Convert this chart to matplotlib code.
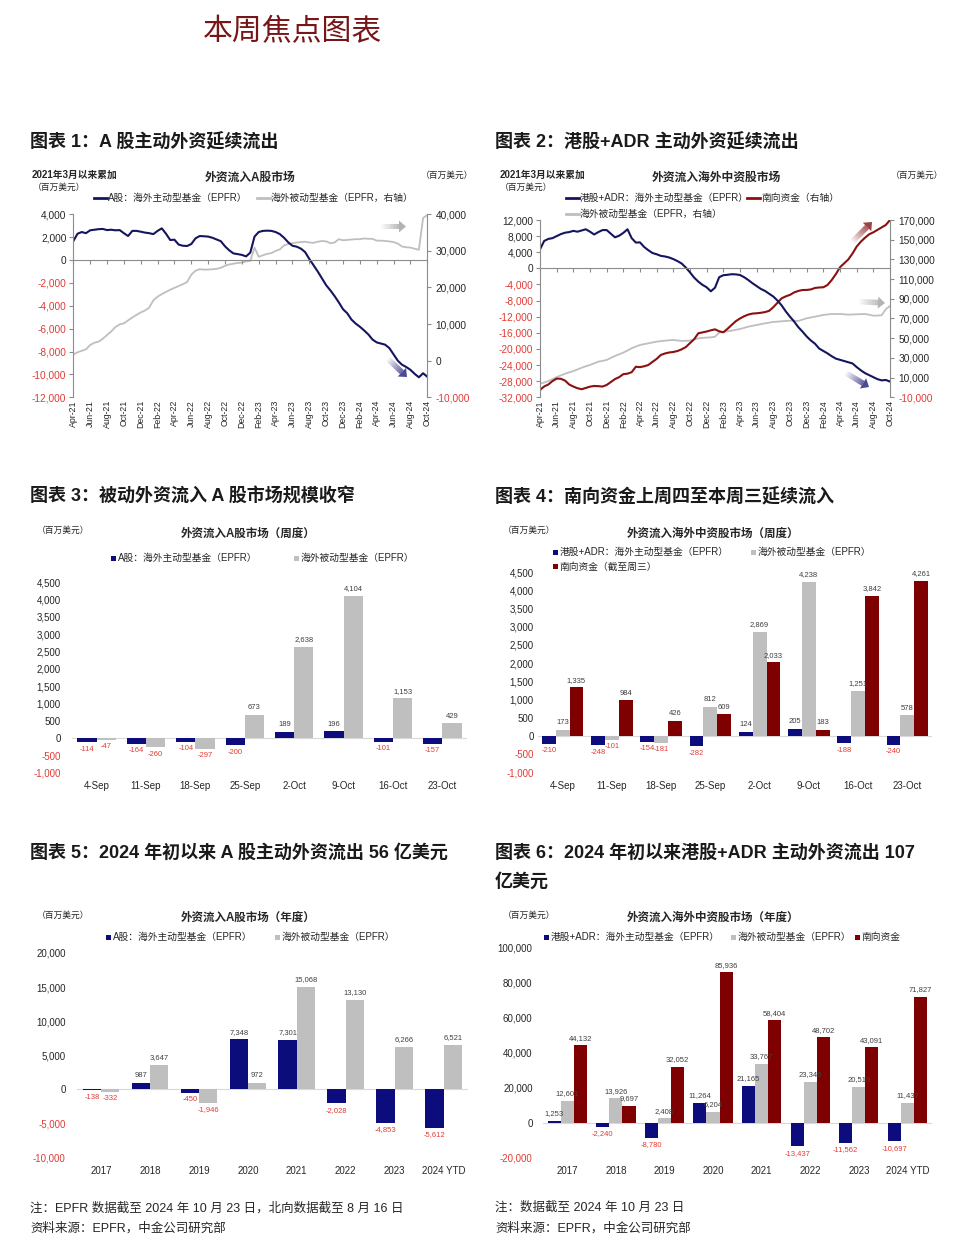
import numpy as np
import pandas as pd
import matplotlib
matplotlib.use('Agg')
import matplotlib.pyplot as plt
from matplotlib.patches import Rectangle, Polygon
from matplotlib.lines import Line2D

plt.rcParams['font.family'] = ['Liberation Sans', 'Noto Sans CJK SC']
plt.rcParams['axes.unicode_minus'] = False

W, H = 979, 1245
NAVY = '#0c0c7c'
LNAVY = '#15155f'
GRAY = '#bfbfbf'
DRED = '#7f0000'
NEG = '#e23b36'
TXT = '#262626'

# ---- cumulative flows since Mar-2021 (half-month steps, Apr-21 .. Oct-24) ----
a_active_cum = [1650, 2300, 2450, 2350, 2600, 2650, 2700, 2720, 2620, 2650,
                2600, 2620, 2350, 2100, 2550, 2550, 2480, 2400, 2350, 2270,
                2550, 2770, 2300, 1750, 1780, 1350, 1250, 1230, 1400, 1900,
                2100, 2080, 2050, 1950, 1800, 1650, 1200, 850, 580, 520,
                450, 320, 650, 2050, 2450, 2550, 2570, 2550, 2450, 2270,
                1950, 1550, 1250, 1170, 1000, 700, 100, -450, -1000, -1600,
                -2200, -2650, -3150, -3700, -4300, -4650, -5200, -5550, -5830, -6150,
                -6500, -6950, -7200, -7300, -7400, -7700, -8250, -8800, -9150, -9350,
                -9600, -9950, -10250, -9900, -10200]
a_passive_cum = [1700, 2300, 2700, 3100, 4300, 4900, 5200, 6000, 7000, 8000,
                 9200, 9900, 10200, 11000, 11800, 12500, 13200, 13700, 14500, 16500,
                 17500, 18200, 18800, 19400, 19900, 20400, 20900, 21500, 23500, 24600,
                 25000, 24900, 24900, 25000, 25100, 25400, 25900, 26300, 26500, 26700,
                 26800, 27100, 27300, 30900, 28400, 28800, 29200, 29400, 30000, 30400,
                 31500, 31900, 32100, 32300, 32400, 32500, 32300, 32200, 32500, 32700,
                 32600, 32100, 32300, 33200, 32900, 33000, 33100, 33200, 33200, 33400,
                 33300, 33300, 32800, 32800, 32700, 32600, 32400, 32000, 31200, 31000,
                 30900, 30600, 30300, 39000, 39800]

hk_active_cum = [4700, 6800, 7300, 7500, 8000, 8500, 8850, 9000, 9300, 9100,
                 9400, 9700, 9100, 8400, 9000, 9500, 9500, 8600, 7700, 8100,
                 8800, 9700, 7500, 6400, 6450, 5300, 4500, 3800, 3500, 3100,
                 2950, 2700, 2300, 1800, 1200, 200, -1000, -2300, -3300, -4100,
                 -4700, -5700, -4800, -2200, -1700, -1600, -1450, -1500, -1650, -2200,
                 -2900, -3700, -4400, -5100, -5600, -6300, -7000, -8000, -9200, -10700,
                 -12000, -13200, -14600, -15700, -16900, -17900, -18700, -19900, -20500, -21100,
                 -21800, -22400, -22700, -23000, -23300, -23600, -24500, -25300, -26000, -26500,
                 -27000, -27500, -27800, -27700, -28100]
south_cum = [-2500, 1000, 3000, 6500, 9000, 8800, 7000, 3000, 900, -800,
             -1800, -500, 800, 1500, 1300, 900, 2500, 5500, 8500, 10500,
             13500, 14000, 15500, 21000, 20600, 21500, 22800, 26000, 29000, 33000,
             34500, 35500, 36000, 37000, 38700, 41000, 45000, 49000, 55000, 55900,
             56800, 58000, 59000, 57000, 56000, 59500, 63500, 67300, 70000, 72300,
             74000, 75000, 75300, 75800, 76500, 77800, 81500, 86000, 90500, 92500,
             94000, 96500, 98000, 98900, 99000, 99500, 101000, 101500, 101700, 104000,
             109000, 115000, 122000, 126000, 130000, 136000, 143000, 148000, 152000, 155500,
             157500, 160000, 162500, 165000, 170000]
hk_passive_cum = [3700, 5000, 6500, 8500, 10500, 12200, 13900, 15300, 16600, 18300,
                  20000, 21500, 22800, 24500, 26200, 27000, 27900, 30000, 32000, 33700,
                  35400, 37500, 39800, 41500, 43100, 44000, 44800, 45700, 46500, 47000,
                  47500, 47900, 48200, 47700, 47200, 47400, 47500, 48700, 49900, 50300,
                  50600, 50900, 51500, 55700, 56300, 57000, 57700, 58500, 59400, 60500,
                  61700, 62600, 63400, 64300, 65100, 65800, 66500, 66800, 67200, 67500,
                  67800, 67700, 67500, 68900, 70200, 71000, 71900, 72700, 73600, 74100,
                  74600, 74600, 74600, 74300, 73900, 74100, 74300, 74400, 74600, 73800,
                  72900, 73000, 73300, 79500, 82700]

month_labels = list(pd.date_range('2021-04-01', periods=22, freq='2MS').strftime('%b-%y'))

# ---- weekly ----
weeks = ['4-Sep', '11-Sep', '18-Sep', '25-Sep', '2-Oct', '9-Oct', '16-Oct', '23-Oct']
wk_a_active = [-114, -164, -104, -200, 189, 196, -101, -157]
wk_a_passive = [-47, -260, -297, 673, 2638, 4104, 1153, 429]
wk_hk_active = [-210, -248, -154, -282, 124, 205, -188, -240]
wk_hk_passive = [173, -101, -181, 812, 2869, 4238, 1251, 578]
wk_south = [1335, 984, 426, 609, 2033, 183, 3842, 4261]

# ---- annual ----
years = ['2017', '2018', '2019', '2020', '2021', '2022', '2023', '2024 YTD']
yr_a_active = [-138, 987, -450, 7348, 7301, -2028, -4853, -5612]
yr_a_passive = [-332, 3647, -1946, 972, 15068, 13130, 6266, 6521]
yr_hk_active = [1253, -2240, -8780, 11264, 21165, -13437, -11562, -10697]
yr_hk_passive = [12601, 13926, 2408, 6204, 33767, 23346, 20519, 11437]
yr_south = [44132, 9697, 32052, 85936, 58404, 48702, 43091, 71827]


fig = plt.figure(figsize=(W / 100, H / 100), dpi=100)


def fx(x):
    return x / W


def fy(y):
    return 1 - y / H


def axes_px(l, t, r, b):
    return fig.add_axes([l / W, 1 - b / H, (r - l) / W, (b - t) / H])


def txt(x, y, s, size, **kw):
    kw.setdefault('color', TXT)
    kw.setdefault('va', 'center')
    fig.text(fx(x), fy(y), s, fontsize=size, **kw)


def leg_box(x, y, color, label):
    fig.add_artist(Rectangle((fx(x), fy(y + 2.5)), 5 / W, 5 / H,
                             transform=fig.transFigure, color=color, lw=0))
    txt(x + 6.5, y, label, 7)


def leg_line(x, y, color, label):
    fig.add_artist(Line2D([fx(x), fx(x + 13)], [fy(y), fy(y)],
                          transform=fig.transFigure, color=color, lw=2))
    txt(x + 14, y, label, 7)


def fade_arrow(x0, y0, x1, y1, color, n=12):
    # arrow whose tail fades out towards its start (pixel coordinates)
    p0 = np.array([x0, y0], float)
    p1 = np.array([x1, y1], float)
    u = (p1 - p0) / np.hypot(*(p1 - p0))
    nrm = np.array([-u[1], u[0]])
    hl, hw, tw = 7, 6, 2.8
    base = p1 - u * hl

    def poly(pts, alpha):
        fig.add_artist(Polygon([(fx(p[0]), fy(p[1])) for p in pts], closed=True,
                               transform=fig.transFigure, color=color,
                               alpha=alpha, lw=0))
    for i in range(n):
        a = p0 + (base - p0) * i / n
        b = p0 + (base - p0) * (i + 1) / n
        poly([a + nrm * tw, b + nrm * tw, b - nrm * tw, a - nrm * tw], 0.05 + 0.75 * i / n)
    poly([base + nrm * hw, p1, base - nrm * hw], 0.85)


def color_ticks(labels, values):
    for lab, v in zip(labels, values):
        lab.set_color(NEG if v < 0 else TXT)


def line_axes(ax, axr, ylim, yticks, rlim, rticks):
    ax.set_xlim(0, 42)
    ax.set_ylim(*ylim)
    ax.set_yticks(yticks)
    ax.set_yticklabels([f'{v:,}' for v in yticks])
    color_ticks(ax.get_yticklabels(), yticks)
    axr.set_ylim(*rlim)
    axr.set_yticks(rticks)
    axr.set_yticklabels([f'{v:,}' for v in rticks])
    color_ticks(axr.get_yticklabels(), rticks)
    for a in (ax, axr):
        a.spines['top'].set_visible(False)
        for s in a.spines.values():
            s.set_color('#8c8c8c')
            s.set_linewidth(0.8)
    ax.spines['right'].set_visible(False)
    axr.spines['left'].set_visible(False)
    axr.spines['bottom'].set_visible(False)
    ax.spines['bottom'].set_position(('data', 0))
    ax.set_xticks(range(0, 43, 2))
    ax.tick_params(axis='x', labelbottom=False, length=3, color='#8c8c8c')
    ax.tick_params(axis='y', labelsize=7.3, length=3, pad=2, color='#8c8c8c')
    axr.tick_params(axis='y', labelsize=7.3, length=3, pad=3, color='#8c8c8c')
    sec = ax.secondary_xaxis(0)
    sec.set_xticks(range(0, 43, 2))
    sec.set_xticklabels(month_labels, rotation=90, fontsize=6.3, color=TXT)
    sec.tick_params(length=0, pad=2)
    sec.spines['bottom'].set_visible(False)
    ax.set_zorder(axr.get_zorder() + 1)
    ax.patch.set_visible(False)


def bar_axes(ax, cats, series, colors, width, ylim, yticks, pad):
    x = np.arange(len(cats))
    n = len(series)
    for i, (vals, col) in enumerate(zip(series, colors)):
        pos = x + (i - (n - 1) / 2) * width
        ax.bar(pos, vals, width, color=col, lw=0, zorder=2)
        for xi, v in zip(pos, vals):
            ax.annotate(f'{v:,}', (xi, v), xytext=(0, 2.5 if v >= 0 else -2.5),
                        textcoords='offset points', ha='center',
                        va='bottom' if v >= 0 else 'top', fontsize=5.5,
                        color='#404040' if v >= 0 else NEG, zorder=3)
    ax.axhline(0, color='#d9d9d9', lw=0.8, zorder=1)
    ax.set_xlim(-0.5, len(cats) - 0.5)
    ax.set_ylim(*ylim)
    ax.set_yticks(yticks)
    ax.set_yticklabels([f'{v:,}' for v in yticks])
    color_ticks(ax.get_yticklabels(), yticks)
    ax.set_xticks(x)
    ax.set_xticklabels(cats)
    ax.tick_params(axis='x', length=0, pad=6, labelsize=7, labelcolor=TXT)
    ax.tick_params(axis='y', length=0, pad=pad, labelsize=7)
    for s in ax.spines.values():
        s.set_visible(False)


# ---------------- headings ----------------
txt(292, 32, '本周焦点图表', 21.5, ha='center', color='#761616', weight='medium')
txt(30, 142, '图表 1：A 股主动外资延续流出', 13, weight='bold', color='#1a1a1a')
txt(495, 142, '图表 2：港股+ADR 主动外资延续流出', 13, weight='bold', color='#1a1a1a')
txt(30, 497, '图表 3：被动外资流入 A 股市场规模收窄', 13, weight='bold', color='#1a1a1a')
txt(495, 497, '图表 4：南向资金上周四至本周三延续流入', 13, weight='bold', color='#1a1a1a')
txt(30, 853, '图表 5：2024 年初以来 A 股主动外资流出 56 亿美元', 13, weight='bold', color='#1a1a1a')
txt(495, 853, '图表 6：2024 年初以来港股+ADR 主动外资流出 107', 13, weight='bold', color='#1a1a1a')
txt(495, 882, '亿美元', 13, weight='bold', color='#1a1a1a')

# ---------------- chart 1 ----------------
ax1 = axes_px(73.3, 214.3, 427.3, 397.3)
ax1r = ax1.twinx()
t = np.linspace(0, 42, len(a_active_cum))
ax1.plot(t, a_active_cum, color=LNAVY, lw=1.5)
ax1r.plot(t, a_passive_cum, color=GRAY, lw=1.3)
line_axes(ax1, ax1r, (-12000, 4000), list(range(-12000, 4001, 2000)),
          (-10000, 40000), list(range(-10000, 40001, 10000)))
txt(32, 175, '2021年3月以来累加', 7, weight='bold')
txt(33, 187, '（百万美元）', 6.3)
txt(250, 177.5, '外资流入A股市场', 8.5, weight='bold', ha='center')
txt(473, 175, '（百万美元）', 6.3, ha='right')
leg_line(94, 197.5, LNAVY, 'A股：海外主动型基金（EPFR）')
leg_line(257, 197.5, GRAY, '海外被动型基金（EPFR，右轴）')
fade_arrow(381, 226.5, 406, 226.5, '#a6a6a6')
fade_arrow(388, 359, 407, 377, '#2b2b80')

# ---------------- chart 2 ----------------
ax2 = axes_px(540, 220, 890, 397.3)
ax2r = ax2.twinx()
t = np.linspace(0, 42, len(hk_active_cum))
ax2r.plot(t, hk_passive_cum, color=GRAY, lw=1.3)
ax2r.plot(t, south_cum, color='#8b1010', lw=1.5)
ax2.plot(t, hk_active_cum, color=LNAVY, lw=1.5)
line_axes(ax2, ax2r, (-32000, 12000), list(range(-32000, 12001, 4000)),
          (-10000, 170000), list(range(-10000, 170001, 20000)))
txt(499.5, 175, '2021年3月以来累加', 7, weight='bold')
txt(500, 187, '（百万美元）', 6.3)
txt(716.5, 177.5, '外资流入海外中资股市场', 8.5, weight='bold', ha='center')
txt(943, 175, '（百万美元）', 6.3, ha='right')
leg_line(566, 197.5, LNAVY, '港股+ADR：海外主动型基金（EPFR）')
leg_line(747, 197.5, '#8b1010', '南向资金（右轴）')
leg_line(566, 213.5, GRAY, '海外被动型基金（EPFR，右轴）')
fade_arrow(852, 242, 872, 222, '#8b2020')
fade_arrow(859, 301.5, 885, 303, '#a6a6a6')
fade_arrow(846, 373, 869, 387, '#2b2b80')

# ---------------- chart 3 ----------------
ax3 = axes_px(72, 582, 467, 773)
bar_axes(ax3, weeks, [wk_a_active, wk_a_passive], [NAVY, GRAY], 0.39,
         (-1000, 4500), list(range(-1000, 4501, 500)), 8)
txt(36.5, 530, '（百万美元）', 6.3)
txt(248, 533.5, '外资流入A股市场（周度）', 8.3, weight='bold', ha='center')
leg_box(111, 558.3, NAVY, 'A股：海外主动型基金（EPFR）')
leg_box(294.5, 558.3, GRAY, '海外被动型基金（EPFR）')

# ---------------- chart 4 ----------------
ax4 = axes_px(538, 572, 932, 772.7)
bar_axes(ax4, weeks, [wk_hk_active, wk_hk_passive, wk_south], [NAVY, GRAY, DRED], 0.28,
         (-1000, 4500), list(range(-1000, 4501, 500)), 3)
txt(503, 530, '（百万美元）', 6.3)
txt(713, 534, '外资流入海外中资股市场（周度）', 8.3, weight='bold', ha='center')
leg_box(553, 552.3, NAVY, '港股+ADR：海外主动型基金（EPFR）')
leg_box(751, 552.3, GRAY, '海外被动型基金（EPFR）')
leg_box(553, 566.7, DRED, '南向资金（截至周三）')

# ---------------- chart 5 ----------------
ax5 = axes_px(76.7, 953, 468, 1157.7)
bar_axes(ax5, years, [yr_a_active, yr_a_passive], [NAVY, GRAY], 0.375,
         (-10000, 20000), list(range(-10000, 20001, 5000)), 8)
txt(36.5, 915, '（百万美元）', 6.3)
txt(248.3, 918.3, '外资流入A股市场（年度）', 8.3, weight='bold', ha='center')
leg_box(106.5, 937.3, NAVY, 'A股：海外主动型基金（EPFR）')
leg_box(275, 937.3, GRAY, '海外被动型基金（EPFR）')

# ---------------- chart 6 ----------------
ax6 = axes_px(543, 947.7, 931.7, 1157.7)
bar_axes(ax6, years, [yr_hk_active, yr_hk_passive, yr_south], [NAVY, GRAY, DRED], 0.27,
         (-20000, 100000), list(range(-20000, 100001, 20000)), 7.5)
txt(503.3, 915, '（百万美元）', 6.3)
txt(713.3, 918.3, '外资流入海外中资股市场（年度）', 8.3, weight='bold', ha='center')
leg_box(544, 937.3, NAVY, '港股+ADR：海外主动型基金（EPFR）')
leg_box(731, 937.3, GRAY, '海外被动型基金（EPFR）')
leg_box(855, 937.3, DRED, '南向资金')

# ---------------- notes ----------------
txt(30, 1208, '注：EPFR 数据截至 2024 年 10 月 23 日，北向数据截至 8 月 16 日', 9)
txt(30, 1228, '资料来源：EPFR，中金公司研究部', 9)
txt(495, 1208, '注：数据截至 2024 年 10 月 23 日', 9)
txt(495, 1228, '资料来源：EPFR，中金公司研究部', 9)

fig.savefig('out.png', dpi=100, facecolor='white')
